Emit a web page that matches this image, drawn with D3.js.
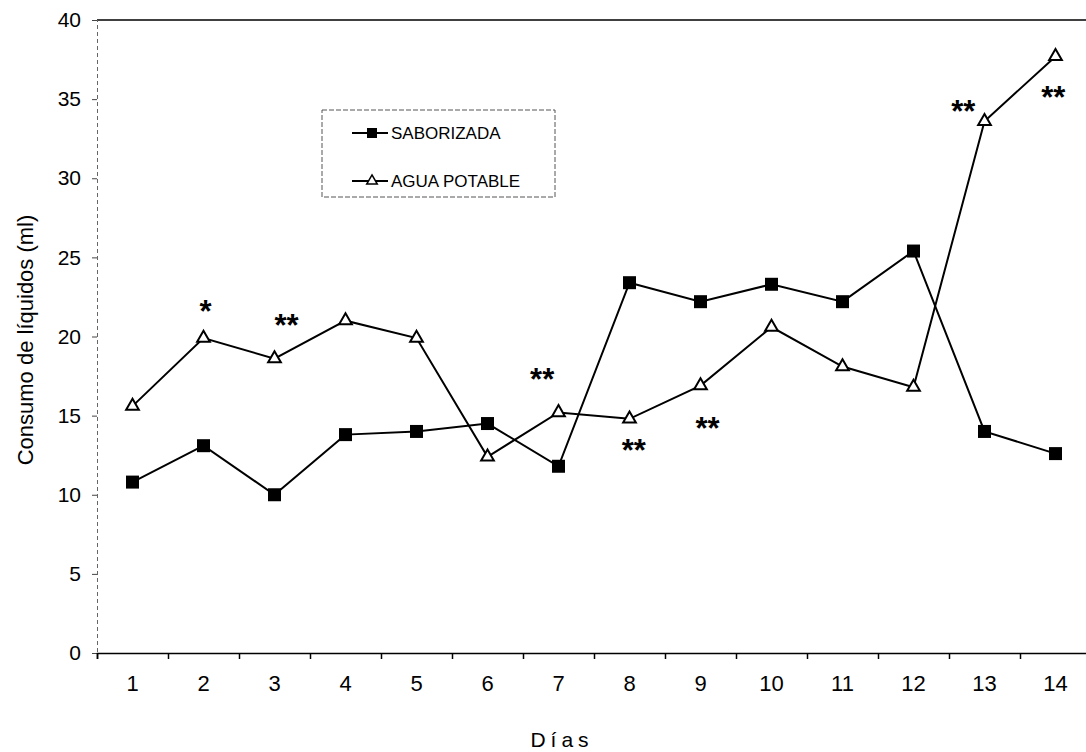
<!DOCTYPE html>
<html>
<head>
<meta charset="utf-8">
<script src="https://cdnjs.cloudflare.com/ajax/libs/d3/7.8.5/d3.min.js"></script>
<style>
	body { margin: 0; background: #fff; }
	text { font-family: "Liberation Sans", Arial, sans-serif; fill: #000; }
</style>
</head>
<body>
<div id="chart"></div>
<script>
// data
var dias = [1, 2, 3, 4, 5, 6, 7, 8, 9, 10, 11, 12, 13, 14];
var saborizada = [10.8, 13.1, 10.0, 13.8, 14.0, 14.5, 11.8, 23.4, 22.2, 23.3, 22.2, 25.4, 14.0, 12.6];
var aguaPotable = [15.6, 19.9, 18.6, 21.0, 19.9, 12.4, 15.2, 14.8, 16.9, 20.6, 18.1, 16.8, 33.6, 37.7];
var yTicks = [0, 5, 10, 15, 20, 25, 30, 35, 40];
var series = ["SABORIZADA", "AGUA POTABLE"];

// significance marks (day position, height in ml)
var annDia = [2.03, 3.17, 6.77, 8.06, 9.1, 12.7, 13.97];
var annValor = [22.0, 21.1, 17.7, 13.2, 14.6, 34.6, 35.5];
var annTexto = ["*", "**", "**", "**", "**", "**", "**"];

var width = 1086, height = 752;
// plot edges (window.top is reserved, so prefixed names)
var plotLeft = 97, plotRight = 1091, plotTop = 20, plotBottom = 653;

var svg = d3.select("#chart").append("svg")
	.attr("width", width)
	.attr("height", height);

svg.append("rect").attr("width", width).attr("height", height).attr("fill", "#fff");

var x = d3.scaleLinear().domain([0.5, 14.5]).range([plotLeft, plotRight]);
var y = d3.scaleLinear().domain([0, 40]).range([plotBottom, plotTop]);

// top frame line
svg.append("line")
	.attr("x1", plotLeft).attr("x2", width)
	.attr("y1", y(40)).attr("y2", y(40))
	.attr("stroke", "#000").attr("stroke-width", 1.5);

// y axis (faint, broken in the scan)
var yAxis = svg.append("g").attr("transform", "translate(" + plotLeft + ",0)")
	.call(d3.axisLeft(y).tickValues(yTicks).tickSize(5).tickPadding(11));
yAxis.select(".domain").attr("stroke", "#666").attr("stroke-dasharray", "4,3");
yAxis.selectAll(".tick line").attr("stroke", "#444");
yAxis.selectAll(".tick text")
	.attr("font-size", 21)
	.attr("font-family", "Liberation Sans, Arial, sans-serif");

// x axis: tick marks between days, labels under each day
var xAxis = svg.append("g").attr("transform", "translate(0," + plotBottom + ")")
	.call(d3.axisBottom(x).tickValues(d3.range(0.5, 15, 1)).tickSize(6).tickFormat(""));
xAxis.select(".domain").attr("stroke", "#000").attr("stroke-width", 1.5);
xAxis.selectAll(".tick line").attr("stroke", "#000").attr("stroke-width", 1.5);

svg.append("g").selectAll("text")
	.data(dias)
	.join("text")
	.attr("x", function (d) { return x(d); })
	.attr("y", plotBottom + 38)
	.attr("text-anchor", "middle")
	.attr("font-size", 22)
	.text(function (d) { return d; });

// axis titles
svg.append("text")
	.attr("transform", "translate(33," + 340 + ") rotate(-90)")
	.attr("text-anchor", "middle")
	.attr("font-size", 22)
	.text("Consumo de líquidos (ml)");

svg.append("text")
	.attr("x", 562)
	.attr("y", 747)
	.attr("text-anchor", "middle")
	.attr("font-size", 21)
	.attr("letter-spacing", 5)
	.text("Días");

// lines
var line = d3.line()
	.x(function (d, i) { return x(dias[i]); })
	.y(function (d) { return y(d); });

svg.append("path").datum(saborizada)
	.attr("d", line).attr("fill", "none")
	.attr("stroke", "#000").attr("stroke-width", 2);

svg.append("path").datum(aguaPotable)
	.attr("d", line).attr("fill", "none")
	.attr("stroke", "#000").attr("stroke-width", 2);

var square = d3.symbol().type(d3.symbolSquare).size(169);
var triangle = d3.symbol().type(d3.symbolTriangle).size(70);

svg.append("g").selectAll("path")
	.data(saborizada)
	.join("path")
	.attr("d", square)
	.attr("transform", function (d, i) { return "translate(" + x(dias[i]) + "," + y(d) + ")"; })
	.attr("fill", "#000");

svg.append("g").selectAll("path")
	.data(aguaPotable)
	.join("path")
	.attr("d", triangle)
	.attr("transform", function (d, i) { return "translate(" + x(dias[i]) + "," + y(d) + ")"; })
	.attr("fill", "#fff").attr("stroke", "#000").attr("stroke-width", 2);

// asterisks
svg.append("g").selectAll("text")
	.data(annTexto)
	.join("text")
	.attr("x", function (d, i) { return x(annDia[i]); })
	.attr("y", function (d, i) { return y(annValor[i]) + 17; })
	.attr("text-anchor", "middle")
	.attr("font-size", 31)
	.attr("font-weight", "bold")
	.text(function (d) { return d; });

// legend
var legend = svg.append("g").attr("transform", "translate(322,110)");
legend.append("rect")
	.attr("width", 233).attr("height", 87)
	.attr("fill", "none").attr("stroke", "#555")
	.attr("stroke-dasharray", "5,2");

var legendSym = [d3.symbol().type(d3.symbolSquare).size(100), d3.symbol().type(d3.symbolTriangle).size(48)];
var rows = legend.selectAll("g.row")
	.data(series)
	.join("g")
	.attr("class", "row")
	.attr("transform", function (d, i) { return "translate(0," + (23 + i * 48) + ")"; });

rows.append("line")
	.attr("x1", 30).attr("x2", 66)
	.attr("stroke", "#000").attr("stroke-width", 2);
rows.append("path")
	.attr("d", function (d, i) { return legendSym[i](); })
	.attr("transform", "translate(50,0)")
	.attr("fill", function (d, i) { return i == 0 ? "#000" : "#fff"; })
	.attr("stroke", "#000").attr("stroke-width", function (d, i) { return i == 0 ? 0 : 1.5; });
rows.append("text")
	.attr("x", 69)
	.attr("y", 6)
	.attr("font-size", 17)
	.text(function (d) { return d; });
</script>
</body>
</html>
